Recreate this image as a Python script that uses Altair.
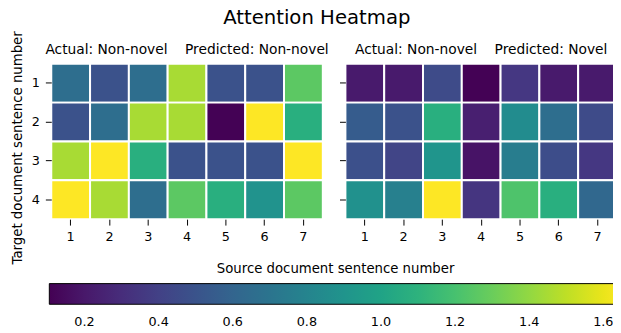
import altair as alt
import pandas as pd

rows = [1, 2, 3, 4]
cols = [1, 2, 3, 4, 5, 6, 7]

left_values = [
    [0.66, 0.49, 0.66, 1.45, 0.49, 0.49, 1.26],
    [0.49, 0.66, 1.45, 1.45, 0.11, 1.65, 1.08],
    [1.45, 1.65, 1.08, 0.49, 0.49, 0.49, 1.65],
    [1.65, 1.45, 0.66, 1.26, 1.08, 0.89, 1.26],
]
right_values = [
    [0.21, 0.21, 0.45, 0.11, 0.35, 0.21, 0.21],
    [0.55, 0.49, 1.08, 0.23, 0.85, 0.66, 0.45],
    [0.48, 0.42, 0.91, 0.18, 0.75, 0.46, 0.35],
    [0.88, 0.77, 1.65, 0.34, 1.22, 1.08, 0.62],
]
panel_titles = [
    "Actual: Non-novel\u00a0\u00a0\u00a0\u00a0Predicted: Non-novel",
    "Actual: Non-novel\u00a0\u00a0\u00a0\u00a0Predicted: Novel",
]
cbar_ticks = [0.2, 0.4, 0.6, 0.8, 1.0, 1.2, 1.4, 1.6]
vmin, vmax = 0.105, 1.65

FONT = "DejaVu Sans"
W, H = 276, 158


def to_df(values):
    recs = []
    for i, r in enumerate(rows):
        for j, c in enumerate(cols):
            recs.append({"row": r, "col": c, "value": values[i][j]})
    return pd.DataFrame(recs)


color_scale = alt.Scale(scheme="viridis", domain=[vmin, vmax])


def panel(values, title, first):
    if first:
        yaxis = alt.Axis(
            labels=True,
            ticks=True,
            domain=False,
            title="Target document sentence number",
            titleY=85,
            titlePadding=7,
            labelAngle=0,
        )
    else:
        yaxis = alt.Axis(labels=False, ticks=True, domain=False, title=None)
    legend = None
    if first:
        legend = alt.Legend(
            orient="none",
            direction="horizontal",
            legendX=-2,
            legendY=202,
            gradientLength=582,
            gradientThickness=21,
            gradientStrokeColor="black",
            gradientStrokeWidth=1,
            title="Source document sentence number",
            titleAnchor="middle",
            titleFont=FONT,
            titleFontSize=13.5,
            titleFontWeight="normal",
            titleColor="black",
            titlePadding=8,
            titleLimit=700,
            labelFont=FONT,
            labelFontSize=13,
            labelColor="black",
            labelOffset=12,
            values=cbar_ticks,
            format=".1f",
            labelOverlap=False,
        )
    rects = (
        alt.Chart(to_df(values))
        .mark_rect(stroke="white", strokeWidth=2)
        .encode(
            x=alt.X("col:O", axis=alt.Axis(title=None, labelAngle=0, domain=False, ticks=True)),
            y=alt.Y("row:O", axis=yaxis),
            color=alt.Color("value:Q", scale=color_scale, legend=legend),
        )
    )
    label = (
        alt.Chart(pd.DataFrame({"t": [title]}))
        .mark_text(font=FONT, fontSize=14, color="black", baseline="middle", align="center")
        .encode(x=alt.value(W / 2), y=alt.value(-14), text="t:N")
    )
    return alt.layer(rects, label).properties(width=W, height=H)


chart = (
    alt.hconcat(panel(left_values, panel_titles[0], True), panel(right_values, panel_titles[1], False), spacing=9)
    .properties(
        title=alt.TitleParams("Attention Heatmap", fontSize=20, font=FONT, fontWeight="normal", color="black", anchor="middle", offset=3),
        padding={"left": 2, "top": -3, "right": -10, "bottom": 0},
    )
    .configure_view(stroke=None)
    .configure_axis(
        labelFont=FONT,
        labelFontSize=13,
        labelColor="black",
        titleFont=FONT,
        titleFontSize=13.5,
        titleFontWeight="normal",
        titleColor="black",
        tickColor="black",
        tickSize=6,
    )
    .configure_axisX(labelPadding=6)
    .configure_axisY(labelPadding=6)
)

chart.save("out.html", embed_options={"renderer": "svg", "actions": False})
